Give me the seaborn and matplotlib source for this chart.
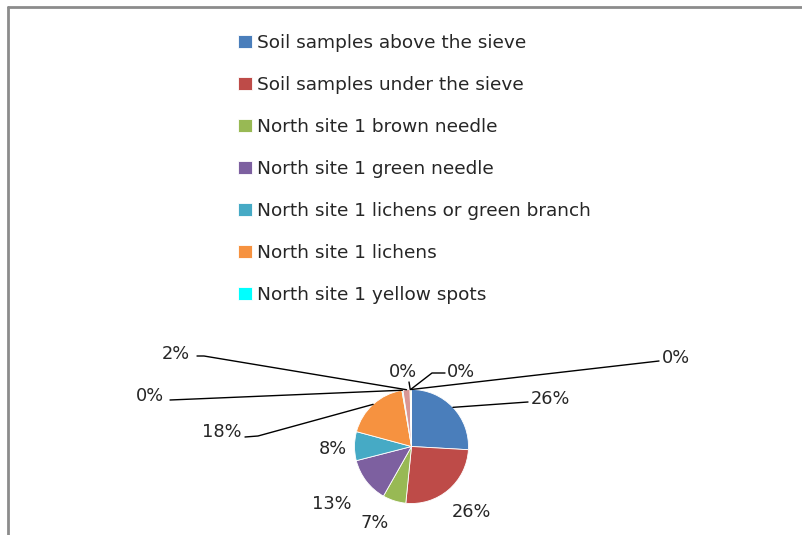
import seaborn as sns
import matplotlib.pyplot as plt
import numpy as np

# Data
categories = ['Soil samples above the sieve', 'Soil samples under the sieve',
              'North site 1 brown needle', 'North site 1 green needle',
              'North site 1 lichens or green branch', 'North site 1 lichens',
              'North site 1 yellow spots', 'Series 8', 'Series 9', 'Series 10', 'Series 11']
shares = [25.9, 25.7, 6.6, 12.8, 8.2, 18.1, 0.3, 2.0, 0.1, 0.1, 0.2]
colors = ['#4A7EBB', '#BE4B48', '#98B954', '#7D60A0', '#46AAC5', '#F69240',
          '#00FFFF', '#D99694', '#C3D69B', '#B3A2C7', '#FFFF00']
n_legend = 7

# Layout (pixel coords, origin top-left)
W, H = 802, 535
pie_center = (411.5, 446.5)
pie_radius = 57
# label centre, leader path (from label side towards pie), or None
label_pos = [
    ((550, 399), [(528, 402)]),
    ((471, 512), None),
    ((375, 523), None),
    ((332, 504), None),
    ((333, 449), None),
    ((222, 432), [(245, 437), (258, 436)]),
    ((150, 396), [(170, 400)]),
    ((176, 354), [(197, 356), (204, 356)]),
    ((403, 372), [(409, 382)]),
    ((461, 372), [(445, 373), (432, 373)]),
    ((676, 358), [(659, 361)]),
]

sns.set_style('white')
plt.rcParams['font.family'] = ['DejaVu Sans']
text_color = '#262626'
fs = 12.8
legend_fs = 13.3


def px(x, y):
    return x, H - y


fig = plt.figure(figsize=(W / 100, H / 100), dpi=100)
ax = fig.add_axes([0, 0, 1, 1])
ax.axis('off')

wedges, _ = ax.pie(shares, colors=colors, startangle=90, counterclock=False,
                   center=px(*pie_center), radius=pie_radius,
                   wedgeprops=dict(edgecolor='white', linewidth=0.6))
ax.set_aspect('equal')
ax.set_xlim(0, W)
ax.set_ylim(0, H)

total = sum(shares)
for w, v, (pos, path) in zip(wedges, shares, label_pos):
    ax.text(*px(*pos), f'{v / total * 100:.0f}%', ha='center', va='center',
            fontsize=fs, color=text_color)
    if path is not None:
        mid = np.deg2rad((w.theta1 + w.theta2) / 2)
        cx, cy = w.center
        ax_pt = (cx + w.r * np.cos(mid), cy + w.r * np.sin(mid))
        pts = [px(*p) for p in path] + [ax_pt]
        xs, ys = zip(*pts)
        ax.plot(xs, ys, color='black', lw=1.0)

# chart border (top and left visible)
ax.plot([8, W], [H - 7, H - 7], color='#8c8c8c', lw=2)
ax.plot([8, 8], [H - 7, 0], color='#8c8c8c', lw=2)

leg = ax.legend(wedges[:n_legend], categories[:n_legend], loc='upper left',
                bbox_to_anchor=(238 / W, 1 - 34 / H), frameon=False, fontsize=legend_fs,
                borderpad=0, borderaxespad=0,
                handlelength=0.75, handleheight=0.75, handletextpad=0.28,
                labelspacing=1.30, labelcolor=text_color)

fig.savefig('out.png', dpi=100)
